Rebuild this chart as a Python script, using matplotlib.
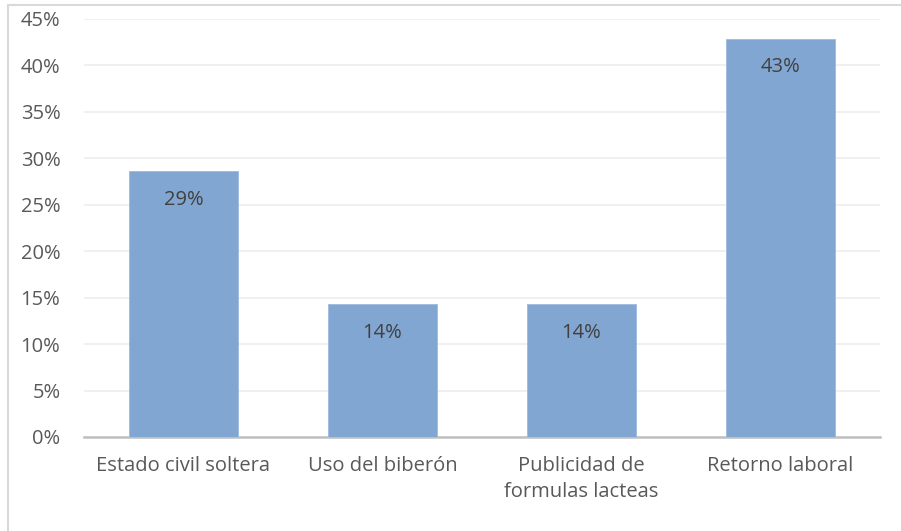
import matplotlib.pyplot as plt
from matplotlib.patches import Rectangle
from matplotlib.ticker import PercentFormatter, MultipleLocator

categories = ["Estado civil soltera", "Uso del biberón", "Publicidad de\nformulas lacteas", "Retorno laboral"]
values = [28.6, 14.3, 14.3, 42.9]
labels = ["29%", "14%", "14%", "43%"]

plt.rcParams['font.family'] = ['Open Sans', 'DejaVu Sans']
text_color = '#595959'

fig = plt.figure(figsize=(9.01, 5.31), dpi=100)
ax = fig.add_axes([84/901, 1 - 437/531, (880-84)/901, (437-19)/531])

# light frame around the chart (cut off on right/bottom like the source)
fig.patches.append(Rectangle((8/901, -0.1), 1.2, 1 - 5/531 + 0.1, transform=fig.transFigure,
                             fill=False, edgecolor='#D9D9D9', linewidth=1.5))

x = range(len(categories))
bars = ax.bar(x, values, width=0.55, color='#82A6D2', edgecolor='#9DB9DD', linewidth=0.6, zorder=3)

for b, lab in zip(bars, labels):
    ax.annotate(lab, (b.get_x() + b.get_width()/2, b.get_height()), xytext=(0, -20.5),
                textcoords='offset points', ha='center', va='center', fontsize=14.5, color='#404040')

ax.set_xlim(-0.5, len(categories) - 0.5)
ax.set_ylim(0, 45)
ax.yaxis.set_major_locator(MultipleLocator(5))
ax.yaxis.set_major_formatter(PercentFormatter(decimals=0))
ax.grid(axis='y', color='#EDEDED', linewidth=1.2, zorder=0)
ax.set_xticks(list(x))
ax.set_xticklabels(categories, linespacing=1.35)

for s in ['top', 'right', 'left']:
    ax.spines[s].set_visible(False)
ax.spines['bottom'].set_color('#BFBFBF')
ax.spines['bottom'].set_linewidth(1.8)
ax.tick_params(axis='both', length=0, labelsize=14.5, colors=text_color)
ax.tick_params(axis='y', pad=17)
ax.tick_params(axis='x', pad=14)

fig.savefig('out.png', dpi=100)
